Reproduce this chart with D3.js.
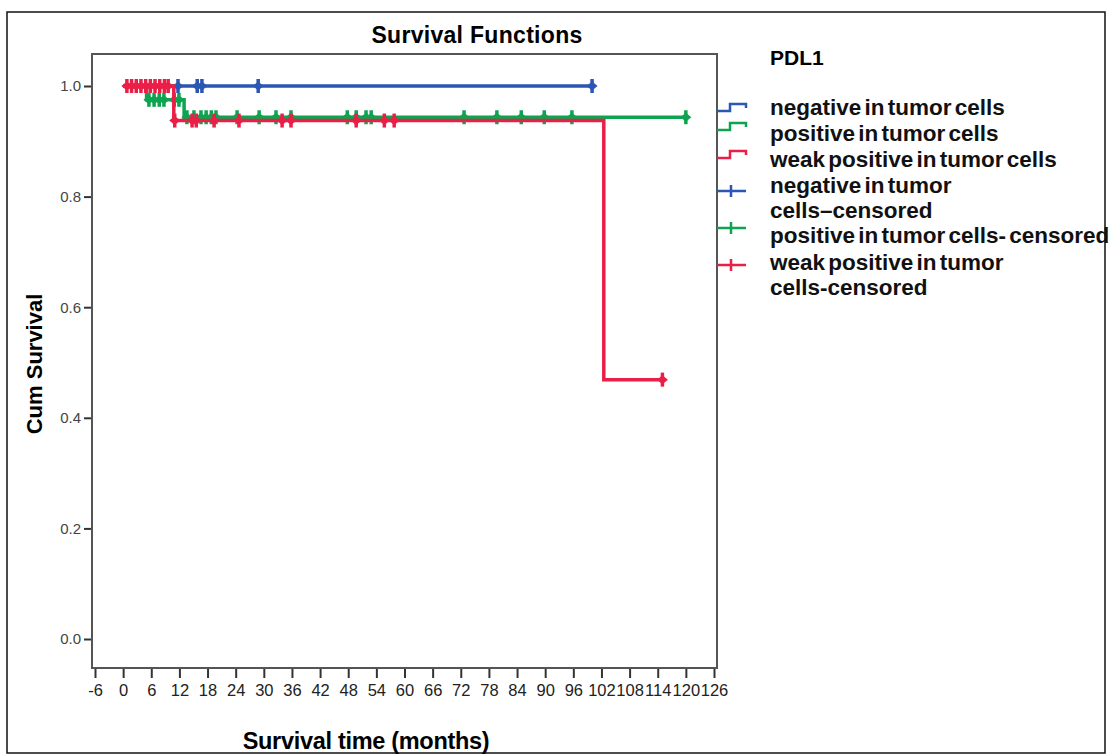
<!DOCTYPE html>
<html>
<head>
<meta charset="utf-8">
<script src="https://cdn.jsdelivr.net/npm/d3@7"></script>
<style>
  body { margin: 0; background: #fff; }
  text { font-family: "Liberation Sans", Arial, sans-serif; }
</style>
</head>
<body>
<div id="chart"></div>
<script>
// chart size
const width = 1112
const height = 755

// groups and colours
const groups = ["negative in tumor cells", "positive in tumor cells", "weak positive in tumor cells"]
const colors = ["#2b56b3", "#0ea44f", "#ea1f48"]

// survival steps per group: [time in months, cum survival]
const negSteps = [[0, 1], [100, 1]]
const posSteps = [[0, 1], [5, 0.975], [13, 0.9435], [120, 0.9435]]
const weakSteps = [[0, 1], [10.8, 0.9375], [102.5, 0.469], [115, 0.469]]

// censored times per group
const negCensored = [11.7, 15.8, 16.8, 28.8, 100]
const posCensored = [5.5, 6.6, 7.7, 8.7, 10.9, 11.9, 13.6, 15.1, 16.6, 17.7, 18.8, 19.8, 24.3, 29, 32.6, 35.8,
  47.8, 49.7, 51.8, 52.9, 72.7, 79.7, 84.9, 89.8, 95.7, 120]
const weakCensored = [0.8, 1.8, 2.8, 3.8, 4.8, 5.8, 6.8, 7.8, 8.8, 9.6, 11, 14.7, 15.6, 19.4, 24.7, 33.9, 35.8,
  49.7, 55.7, 57.8, 115]

// axis ticks
const xTicks = d3.range(-6, 127, 6)
const yTicks = [0, 0.2, 0.4, 0.6, 0.8, 1.0]

// legend entries: [label lines, kind, group index]
const legendItems = [
  [["negative in tumor cells"], "step", 0],
  [["positive in tumor cells"], "step", 1],
  [["weak positive in tumor cells"], "step", 2],
  [["negative in tumor", "cells\u2013censored"], "cross", 0],
  [["positive in tumor cells- censored"], "cross", 1],
  [["weak positive in tumor", "cells-censored"], "cross", 2]
]

const series = [
  { steps: negSteps, censored: negCensored },
  { steps: posSteps, censored: posCensored },
  { steps: weakSteps, censored: weakCensored }
]

const svg = d3.select("#chart")
  .append("svg")
    .attr("width", width)
    .attr("height", height)

// outer border
svg.append("rect")
  .attr("x", 7).attr("y", 12)
  .attr("width", 1098).attr("height", 741)
  .attr("fill", "none")
  .attr("stroke", "#111")
  .attr("stroke-width", 1.5)

const frame = { left: 92, top: 54, right: 717, bottom: 668 }

const x = d3.scaleLinear().domain([-6, 126]).range([95, 714])
const y = d3.scaleLinear().domain([0, 1]).range([639, 86])

// x axis
const xAxis = svg.append("g")
  .attr("transform", `translate(0,${frame.bottom})`)
  .call(d3.axisBottom(x).tickValues(xTicks).tickSize(10).tickPadding(6).tickFormat(d => String(d)))
xAxis.select(".domain").remove()
xAxis.selectAll("line").attr("stroke", "#333").attr("stroke-width", 2)
xAxis.selectAll("text").attr("font-size", 16.5).attr("fill", "#222")

// y axis
const yAxis = svg.append("g")
  .attr("transform", `translate(${frame.left},0)`)
  .call(d3.axisLeft(y).tickValues(yTicks).tickSize(8).tickPadding(3).tickFormat(d3.format(".1f")))
yAxis.select(".domain").remove()
yAxis.selectAll("line").attr("stroke", "#333").attr("stroke-width", 2)
yAxis.selectAll("text").attr("font-size", 15).attr("fill", "#444")

// plot frame
svg.append("rect")
  .attr("x", frame.left).attr("y", frame.top)
  .attr("width", frame.right - frame.left).attr("height", frame.bottom - frame.top)
  .attr("fill", "none")
  .attr("stroke", "#555")
  .attr("stroke-width", 2)

// survival value at time t (step after)
function survAt(steps, t) {
  let s = steps[0][1]
  steps.forEach(p => { if (p[0] <= t) s = p[1] })
  return s
}

const line = d3.line()
  .x(d => x(d[0]))
  .y(d => y(d[1]))
  .curve(d3.curveStepAfter)

series.forEach((s, i) => {
  const g = svg.append("g")
  g.append("path")
    .attr("d", line(s.steps))
    .attr("fill", "none")
    .attr("stroke", colors[i])
    .attr("stroke-width", 3.5)

  const marks = g.selectAll(".mark")
    .data(s.censored)
    .join("g")
      .attr("class", "mark")
      .attr("transform", t => `translate(${x(t)},${y(survAt(s.steps, t))})`)
  marks.append("line")
    .attr("y1", -7).attr("y2", 7)
    .attr("stroke", colors[i]).attr("stroke-width", 3.5)
  marks.append("path")
    .attr("d", "M-5.5,0L0,-4.5L5.5,0L0,4.5Z")
    .attr("fill", colors[i])
})

// title
svg.append("text")
  .attr("x", 477).attr("y", 43)
  .attr("text-anchor", "middle")
  .attr("font-size", 23)
  .attr("font-weight", 700)
  .attr("letter-spacing", 0.3)
  .text("Survival Functions")

// axis titles
svg.append("text")
  .attr("x", 366).attr("y", 749)
  .attr("text-anchor", "middle")
  .attr("font-family", "'Open Sans', sans-serif")
  .attr("font-size", 23.5)
  .attr("font-weight", 700)
  .attr("letter-spacing", -0.3)
  .text("Survival  time (months)")

svg.append("text")
  .attr("transform", "translate(42,364) rotate(-90)")
  .attr("text-anchor", "middle")
  .attr("font-size", 22)
  .attr("font-weight", 700)
  .text("Cum Survival")

// legend
const legend = svg.append("g")
legend.append("text")
  .attr("x", 770).attr("y", 58).attr("dy", "0.35em")
  .attr("font-size", 21).attr("font-weight", 700)
  .text("PDL1")

const rowStarts = [107, 133, 159, 185, 235, 262]
const symbolY = [108, 127, 155, 191, 228, 265]

legendItems.forEach((item, i) => {
  const [lines, kind, gi] = item
  lines.forEach((t, j) => {
    legend.append("text")
      .attr("x", 770).attr("y", rowStarts[i] + j * 25).attr("dy", "0.35em")
      .attr("font-size", 22.5).attr("font-weight", 700)
      .attr("word-spacing", -3)
      .attr("fill", "#111")
      .text(t)
  })
  const sy = symbolY[i]
  if (kind === "step") {
    legend.append("path")
      .attr("d", `M717,${sy + 3}H730V${sy - 4}H746V${sy}`)
      .attr("fill", "none")
      .attr("stroke", colors[gi]).attr("stroke-width", 2.5)
  } else {
    legend.append("path")
      .attr("d", `M717,${sy}H746M731,${sy - 6}V${sy + 6}`)
      .attr("fill", "none")
      .attr("stroke", colors[gi]).attr("stroke-width", 2.5)
  }
})
</script>
</body>
</html>
